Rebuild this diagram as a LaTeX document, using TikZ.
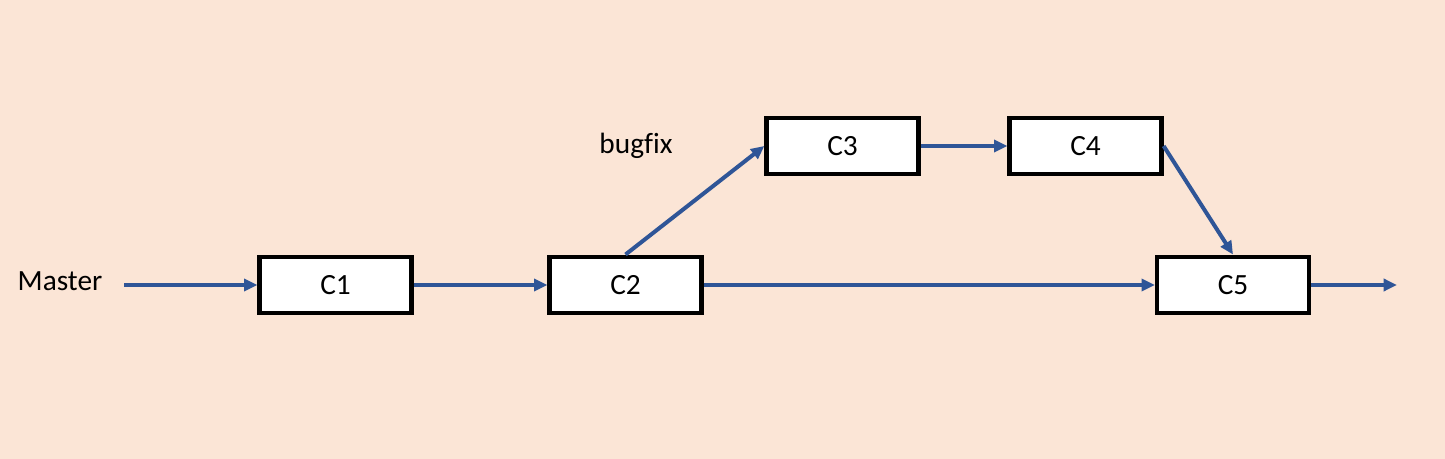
\documentclass[tikz,border=0pt]{standalone}
\usepackage{fontspec}
\setmainfont{Carlito}[Ligatures={NoCommon}]
\usetikzlibrary{arrows.meta}

\definecolor{bgpeach}{RGB}{251,229,214}
\definecolor{flowblue}{RGB}{47,85,151}

\tikzset{every picture/.style={line width=0.75pt}}
\tikzset{
  commit/.style={draw=black, fill=white, line width=3.2pt, minimum width=114pt, minimum height=42.5pt, inner sep=0pt, font=\fontsize{22}{26}\selectfont},
  flow/.style={draw=flowblue, line width=3pt, -{Triangle[length=10pt,width=9pt]}},
  tag/.style={font=\fontsize{22}{26}\selectfont, inner sep=0.75pt}
}

\begin{document}
\begin{tikzpicture}[x=0.75pt,y=0.75pt,yscale=-1,xscale=1]

\fill [bgpeach] (0,0) rectangle (1445,459) ;

\node [commit] (c1) at (335.5,285) {C1};
\node [commit] (c2) at (625.5,285) {C2};
\node [commit] (c3) at (842.5,146) {C3};
\node [commit] (c4) at (1085.5,146) {C4};
\node [commit] (c5) at (1233,285) {C5};

\node [tag] (master) at (60,281) {Master};
\node [tag] (bugfix) at (636,146) {bugfix};

\coordinate (in) at (124,285);
\coordinate (out) at (1397,285);

\draw [flow] (in) -- (c1) ;
\draw [flow] (c1) -- (c2) ;
\draw [flow] (c2) -- (c5) ;
\draw [flow] (c2.north) -- (c3.west) ;
\draw [flow] (c3) -- (c4) ;
\draw [flow] (c4.east) -- (c5.north) ;
\draw [flow] (c5) -- (out) ;

\end{tikzpicture}
\end{document}
